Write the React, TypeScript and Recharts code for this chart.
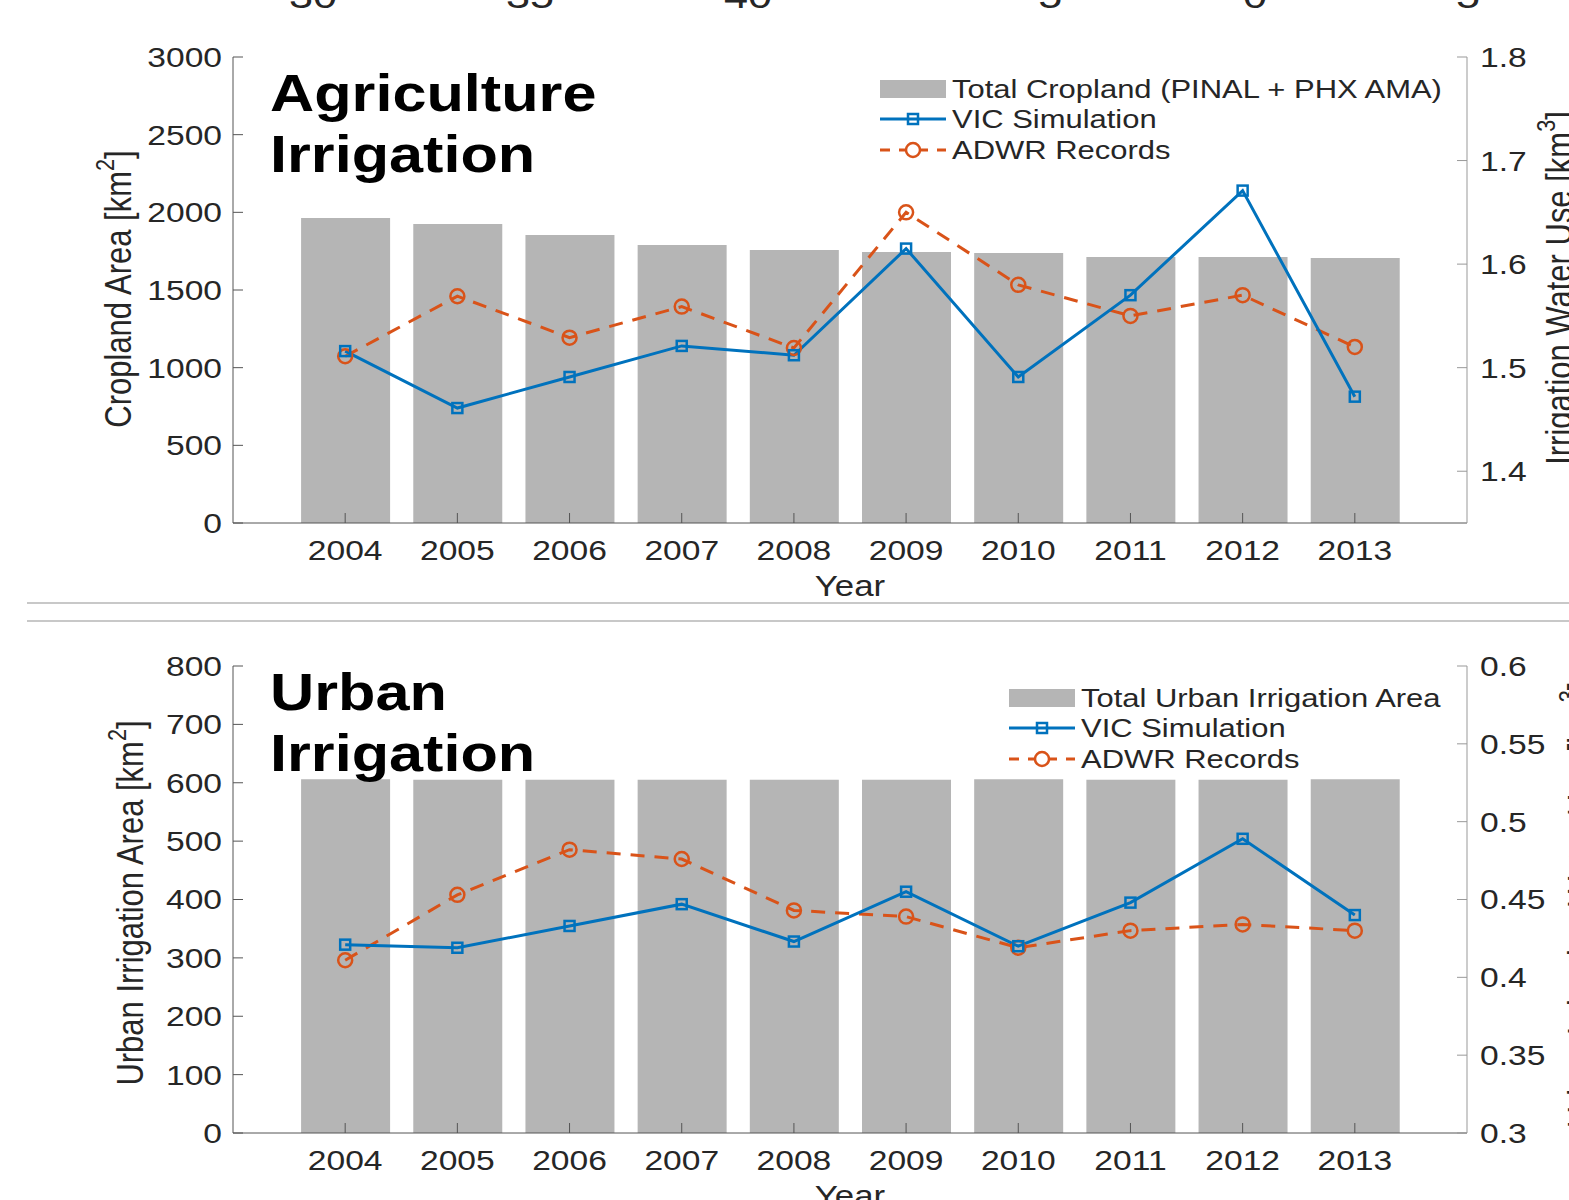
import React from 'react';
import { ComposedChart, Bar, Line, XAxis, YAxis } from 'recharts';

// values
const years = [2004, 2005, 2006, 2007, 2008, 2009, 2010, 2011, 2012, 2013];
const croplandArea = [1964, 1925, 1854, 1790, 1758, 1745, 1738, 1713, 1713, 1706];
const agVic = [1.516, 1.461, 1.491, 1.521, 1.512, 1.615, 1.491, 1.57, 1.671, 1.472];
const agAdwr = [1.511, 1.569, 1.529, 1.559, 1.519, 1.65, 1.58, 1.55, 1.57, 1.52];
const urbanArea = [606, 605, 605, 605, 605, 605, 606, 605, 605, 606];
const urbanVic = [0.421, 0.419, 0.433, 0.447, 0.423, 0.455, 0.42, 0.448, 0.489, 0.44];
const urbanAdwr = [0.411, 0.453, 0.482, 0.476, 0.443, 0.439, 0.419, 0.43, 0.434, 0.43];

const agAreaTicks = [0, 500, 1000, 1500, 2000, 2500, 3000];
const agWaterTicks = [1.4, 1.5, 1.6, 1.7, 1.8];
const urbanAreaTicks = [0, 100, 200, 300, 400, 500, 600, 700, 800];
const urbanWaterTicks = [0.3, 0.35, 0.4, 0.45, 0.5, 0.55, 0.6];
const strayTopLabels = ['30', '35', '40', '-5', '0', '5'];

const FONT = "'Liberation Sans', Arial, Helvetica, sans-serif";
const SX = 1.2; // the reference is stretched horizontally
const BLUE = '#0072BD';
const ORANGE = '#D95319';
const BAR_GRAY = '#b5b5b5';
const TEXT = '#262626';

const agData = years.map((year, i) => ({ year, area: croplandArea[i], vic: agVic[i], adwr: agAdwr[i] }));
const urbanData = years.map((year, i) => ({ year, area: urbanArea[i], vic: urbanVic[i], adwr: urbanAdwr[i] }));

const makeTick = (side: 'bottom' | 'left' | 'right') => (props: any) => {
  const { x, y, payload } = props;
  const anchor = side === 'bottom' ? 'middle' : side === 'left' ? 'end' : 'start';
  return (
    <text
      transform={`translate(${x},${y}) scale(${SX},1)`}
      textAnchor={anchor}
      dy={side === 'bottom' ? '0.71em' : '0.355em'}
      fontSize={28}
      fontFamily={FONT}
      fill={TEXT}
    >
      {payload.value}
    </text>
  );
};
const bottomTick = makeTick('bottom');
const leftTick = makeTick('left');
const rightTick = makeTick('right');
const noTick = () => <g />;

const SquareDot = (props: any) => {
  const { cx, cy, index } = props;
  return <rect key={`sq-${index}`} x={cx - 5} y={cy - 5} width={10} height={10} fill="none" stroke={BLUE} strokeWidth={2.5} />;
};
const CircleDot = (props: any) => {
  const { cx, cy, index } = props;
  return <circle key={`ci-${index}`} cx={cx} cy={cy} r={7} fill="none" stroke={ORANGE} strokeWidth={2.5} />;
};

interface PanelProps {
  data: any[];
  height: number;
  top: number;
  xAxisHeight: number;
  areaMax: number;
  areaTicks: number[];
  waterDomain: [number, number];
  waterTicks: number[];
}

const Panel: React.FC<PanelProps> = ({ data, height, top, xAxisHeight, areaMax, areaTicks, waterDomain, waterTicks }) => (
  <ComposedChart width={1569} height={height} data={data} margin={{ top, right: 22, bottom: 0, left: 153 }}>
    <XAxis
      xAxisId="bottom"
      dataKey="year"
      type="number"
      domain={[2003, 2014]}
      ticks={years}
      height={xAxisHeight}
      tickSize={-10}
      tickMargin={27}
      stroke="#555"
      tick={bottomTick}
    />
    <XAxis
      xAxisId="top"
      orientation="top"
      dataKey="year"
      type="number"
      domain={[2003, 2014]}
      ticks={years}
      height={0}
      tickSize={-10}
      stroke="#999"
      tick={noTick}
    />
    <YAxis
      yAxisId="left"
      width={80}
      domain={[0, areaMax]}
      ticks={areaTicks}
      tickSize={-10}
      tickMargin={21}
      stroke="#555"
      tick={leftTick}
      allowDataOverflow
    />
    <YAxis
      yAxisId="right"
      orientation="right"
      width={80}
      domain={waterDomain}
      ticks={waterTicks}
      tickSize={-10}
      tickMargin={23}
      stroke="#999"
      tick={rightTick}
      allowDataOverflow
    />
    <Bar xAxisId="bottom" yAxisId="left" dataKey="area" fill={BAR_GRAY} barSize={89} isAnimationActive={false} />
    <Line
      xAxisId="bottom"
      yAxisId="right"
      dataKey="adwr"
      stroke={ORANGE}
      strokeWidth={3}
      strokeDasharray="14 10"
      dot={CircleDot}
      isAnimationActive={false}
    />
    <Line
      xAxisId="bottom"
      yAxisId="right"
      dataKey="vic"
      stroke={BLUE}
      strokeWidth={3}
      dot={SquareDot}
      isAnimationActive={false}
    />
  </ComposedChart>
);

const SText: React.FC<{ x: number; y: number; size: number; bold?: boolean; anchor?: string; children: React.ReactNode }> = ({
  x, y, size, bold, anchor = 'start', children,
}) => (
  <text
    transform={`translate(${x},${y}) scale(${SX},1)`}
    fontSize={size}
    fontWeight={bold ? 'bold' : 'normal'}
    fontFamily={FONT}
    textAnchor={anchor}
    fill={bold ? '#000' : TEXT}
  >
    {children}
  </text>
);

const VText: React.FC<{ x: number; y: number; size: number; label: string; sup: string }> = ({ x, y, size, label, sup }) => (
  <text
    transform={`translate(${x},${y}) rotate(-90) scale(1,${SX})`}
    fontSize={size}
    fontFamily={FONT}
    textAnchor="middle"
    fill={TEXT}
  >
    {label}
    <tspan dy={-size * 0.45} fontSize={size * 0.7}>{sup}</tspan>
    <tspan dy={size * 0.45}>]</tspan>
  </text>
);

const Legend: React.FC<{ x: number; y: number; first: string }> = ({ x, y, first }) => (
  <g>
    <rect x={x} y={y} width={66} height={18} fill={BAR_GRAY} />
    <SText x={x + 72} y={y + 18} size={25.8}>{first}</SText>
    <line x1={x} x2={x + 66} y1={y + 39} y2={y + 39} stroke={BLUE} strokeWidth={3} />
    <rect x={x + 28} y={y + 34} width={10} height={10} fill="none" stroke={BLUE} strokeWidth={2.5} />
    <SText x={x + 72} y={y + 48} size={25.8}>VIC Simulation</SText>
    <line x1={x} x2={x + 66} y1={y + 70} y2={y + 70} stroke={ORANGE} strokeWidth={3} strokeDasharray="10 9" />
    <circle cx={x + 33} cy={y + 70} r={7} fill="white" stroke={ORANGE} strokeWidth={2.5} />
    <SText x={x + 72} y={y + 79} size={25.8}>ADWR Records</SText>
  </g>
);

const strayX = [313, 530, 748, 1043, 1255, 1468];

export default function App() {
  return (
    <div style={{ position: 'fixed', top: 0, left: 0, width: 1569, height: 1200, overflow: 'hidden', background: '#fff' }}>
      <div style={{ position: 'absolute', top: 0, left: 0 }}>
        <Panel
          data={agData}
          height={600}
          top={57}
          xAxisHeight={77}
          areaMax={3000}
          areaTicks={agAreaTicks}
          waterDomain={[1.35, 1.8]}
          waterTicks={agWaterTicks}
        />
      </div>
      <div style={{ position: 'absolute', top: 602, left: 27, width: 1542, height: 2, background: '#c8c8c8' }} />
      <div style={{ position: 'absolute', top: 620, left: 27, width: 1542, height: 2, background: '#c8c8c8' }} />
      <div style={{ position: 'absolute', top: 621, left: 0 }}>
        <Panel
          data={urbanData}
          height={579}
          top={45}
          xAxisHeight={67}
          areaMax={800}
          areaTicks={urbanAreaTicks}
          waterDomain={[0.3, 0.6]}
          waterTicks={urbanWaterTicks}
        />
      </div>
      <svg width={1569} height={1200} style={{ position: 'absolute', top: 0, left: 0, pointerEvents: 'none' }}>
        {strayTopLabels.map((t, i) => (
          <SText key={t + i} x={strayX[i]} y={8} size={36} anchor="middle">{t}</SText>
        ))}
        <SText x={270} y={111} size={51} bold>Agriculture</SText>
        <SText x={270} y={172} size={51} bold>Irrigation</SText>
        <SText x={270} y={710} size={51} bold>Urban</SText>
        <SText x={270} y={771} size={51} bold>Irrigation</SText>
        <Legend x={880} y={80} first="Total Cropland (PINAL + PHX AMA)" />
        <Legend x={1009} y={689} first="Total Urban Irrigation Area" />
        <SText x={850} y={596} size={29} anchor="middle">Year</SText>
        <SText x={850} y={1206} size={29} anchor="middle">Year</SText>
        <VText x={131} y={289} size={31} label="Cropland Area [km" sup="2" />
        <VText x={143} y={903} size={31} label="Urban Irrigation Area [km" sup="2" />
        <VText x={1572} y={288} size={31} label="Irrigation Water Use [km" sup="3" />
        <VText x={1594} y={905} size={31} label="Urban Irrigation Water Use [km" sup="3" />
      </svg>
    </div>
  );
}
